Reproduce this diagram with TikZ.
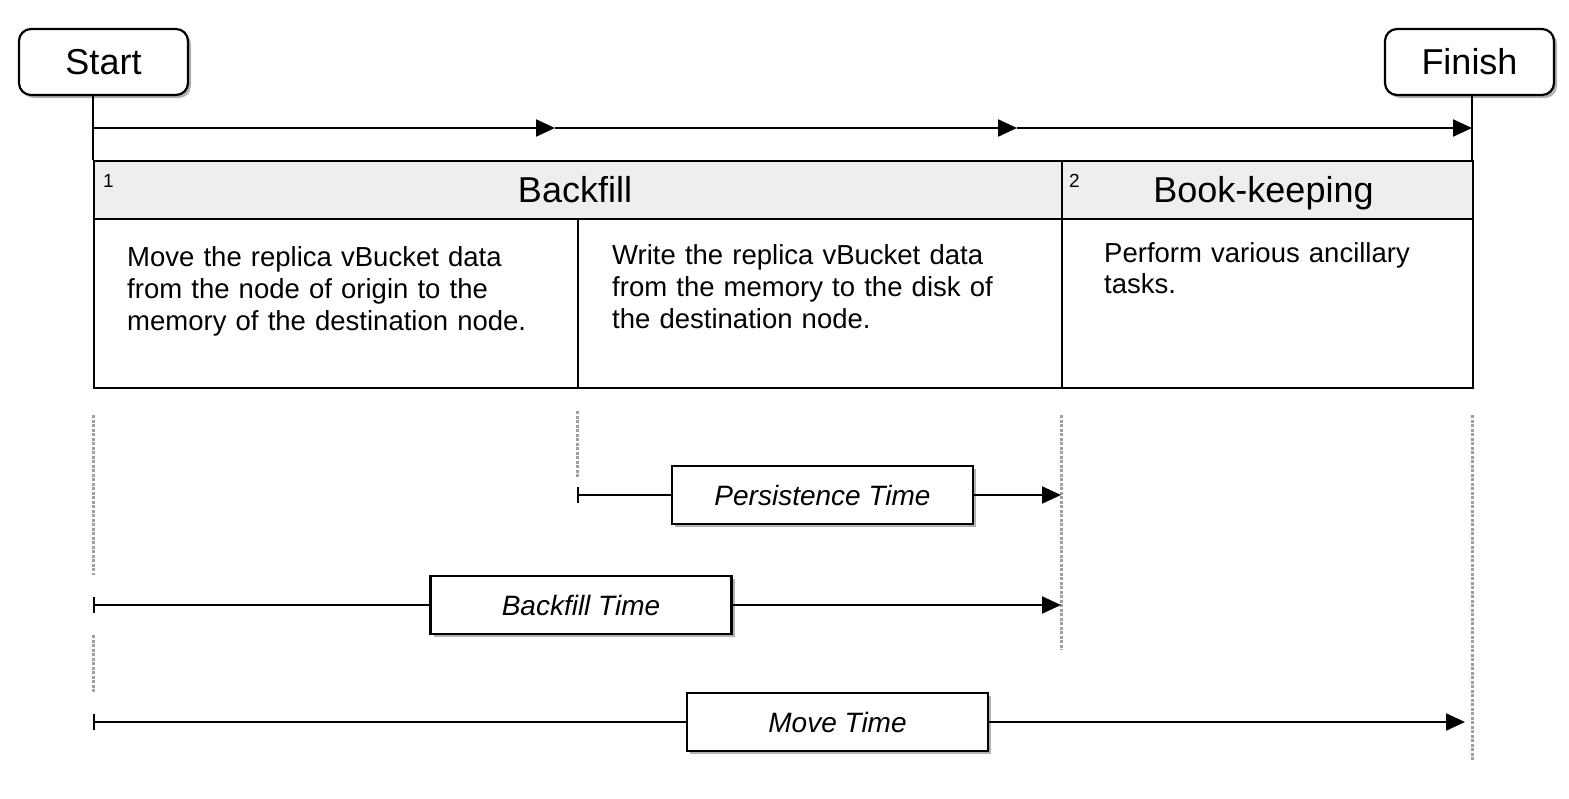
\documentclass[tikz,border=0pt]{standalone}
\usepackage{fontspec}
\setmainfont{Liberation Sans}
\usetikzlibrary{arrows.meta,shadows}
\definecolor{hdr}{HTML}{EEEEEE}
\definecolor{dgray}{HTML}{A0A0A0}
\begin{document}
\begin{tikzpicture}[x=1pt,y=-1pt,
  ln/.style={line width=2.2pt},
  tip/.style={-{Triangle[length=19pt,width=17pt]}},
  tick/.style={{Bar[width=16pt]}-},
  shd/.style={drop shadow={shadow xshift=3pt,shadow yshift=-3pt,fill=black!30,opacity=1}},
  endbox/.style={draw,line width=2.2pt,rounded corners=12pt,fill=white,shd,
     minimum width=169pt,minimum height=66pt,inner sep=0pt,font=\fontsize{36}{42}\selectfont},
  cell/.style={draw,line width=2.2pt,anchor=north west,inner sep=0pt},
  hdrtxt/.style={anchor=base,inner sep=0pt,font=\fontsize{36}{42}\selectfont},
  num/.style={anchor=base west,inner sep=0pt,font=\fontsize{19}{22}\selectfont},
  body/.style={anchor=base west,inner sep=0pt,text width=450pt,align=left,
     font=\fontsize{27.5}{31.8}\selectfont},
  lbl/.style={draw,line width=2.2pt,fill=white,shd,minimum width=301pt,minimum height=58pt,
     inner sep=0pt,font=\fontsize{28}{32}\selectfont\itshape},
  guide/.style={draw=dgray,line width=3pt,dash pattern=on 3pt off 1.5pt}
]
\useasboundingbox (0,0) rectangle (1569,798);

% guides (drawn first, behind)
\coordinate (g1a) at (93,415); \coordinate (g1b) at (93,575);
\coordinate (g1c) at (93,635); \coordinate (g1d) at (93,693);
\coordinate (g2a) at (577,411); \coordinate (g2b) at (577,477);
\coordinate (g3a) at (1061,415); \coordinate (g3b) at (1061,650);
\coordinate (g4a) at (1472,415); \coordinate (g4b) at (1472,760);
\draw[guide] (g1a) -- (g1b);
\draw[guide] (g1c) -- (g1d);
\draw[guide] (g2a) -- (g2b);
\draw[guide] (g3a) -- (g3b);
\draw[guide] (g4a) -- (g4b);

% start / finish
\node[endbox] (start) at (103.5,62) {Start};
\node[endbox] (finish) at (1469.5,62) {Finish};

% table
\node[cell,fill=hdr,minimum width=968pt,minimum height=58pt] (h1) at (93,160) {};
\node[cell,fill=hdr,minimum width=411pt,minimum height=58pt] (h2) at (1061,160) {};
\node[cell,minimum width=484pt,minimum height=169pt] (b1) at (93,218) {};
\node[cell,minimum width=484pt,minimum height=169pt] (b2) at (577,218) {};
\node[cell,minimum width=411pt,minimum height=169pt] (b3) at (1061,218) {};

\node[hdrtxt] (ht1) at (575,202) {Backfill};
\node[hdrtxt] (ht2) at (1263.5,202) {Book-keeping};
\node[num] (n1) at (103,187) {1};
\node[num] (n2) at (1069,187) {2};

\node[body] (bt1) at (127,266.5) {Move the replica vBucket data\\from the node of origin to the\\memory of the destination node.};
\node[body] (bt2) at (612,264.5) {Write the replica vBucket data\\from the memory to the disk of\\the destination node.};
\node[body] (bt3) at (1104,262) {Perform various ancillary\\tasks.};

% top timeline
\coordinate (sb) at (93,96);
\coordinate (st) at (93,160);
\coordinate (fb) at (1472,96);
\coordinate (ft) at (1472,160);
\coordinate (a0) at (93,128);
\coordinate (a1) at (555,128);
\coordinate (a2) at (1017,128);
\coordinate (a3) at (1472,128);
\draw[ln] (sb) -- (st);
\draw[ln] (fb) -- (ft);
\draw[ln,tip] (a0) -- (a1);
\draw[ln,tip] (a1) -- (a2);
\draw[ln,tip] (a2) -- (a3);

% duration rows
\node[lbl] (pt) at (822.5,495) {Persistence Time};
\node[lbl] (bt) at (581,605) {Backfill Time};
\node[lbl] (mt) at (837.5,722) {Move Time};

\coordinate (p0) at (577,495);
\coordinate (p1) at (1061,495);
\coordinate (q0) at (93,605);
\coordinate (q1) at (1061,605);
\coordinate (m0) at (93,722);
\coordinate (m1) at (1465,722);

\draw[ln,tick] (p0) -- (pt.west);
\draw[ln,tip] (pt.east) -- (p1);
\draw[ln,tick] (q0) -- (bt.west);
\draw[ln,tip] (bt.east) -- (q1);
\draw[ln,tick] (m0) -- (mt.west);
\draw[ln,tip] (mt.east) -- (m1);
\end{tikzpicture}
\end{document}
